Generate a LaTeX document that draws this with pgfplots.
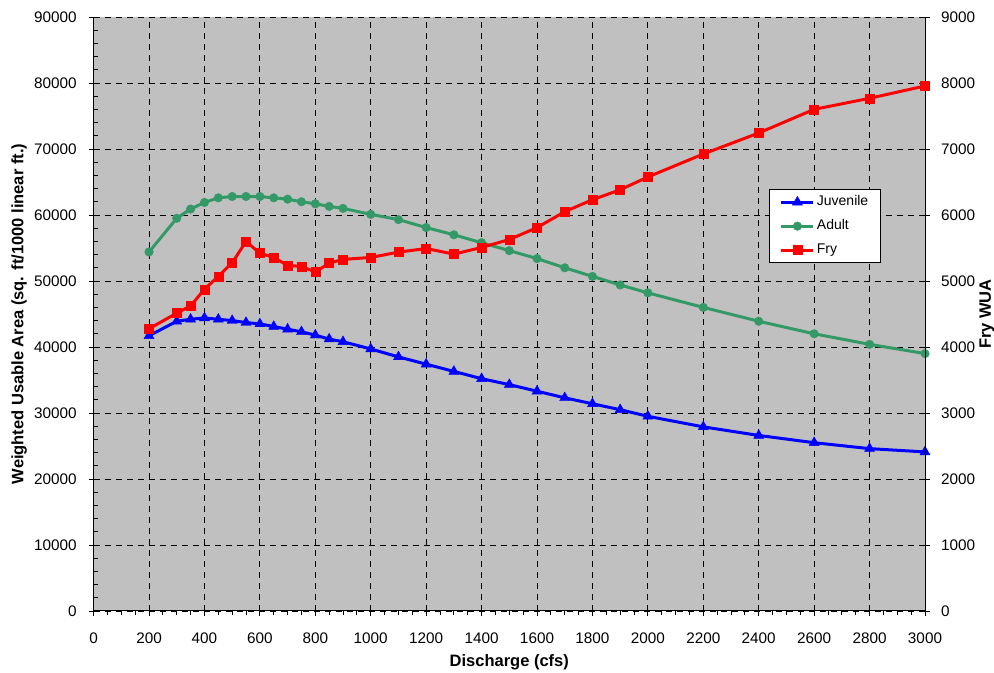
\documentclass[border=0pt]{standalone}
\usepackage{pgfplots}
\pgfplotsset{compat=1.18}
\usepackage{fontspec}
\setmainfont{Liberation Sans}
\definecolor{bgsilver}{RGB}{192,192,192}
\definecolor{adultgreen}{RGB}{51,153,102}
\begin{document}
\begin{tikzpicture}
\pgfplotsset{
  common/.style={
    width=831.4pt, height=594pt, scale only axis,
    xmin=0, xmax=3000, clip=false,
    /pgf/number format/assume math mode=true,
    /pgf/number format/1000 sep={},
    scaled x ticks=false, scaled y ticks=false,
    ticklabel style={font=\fontsize{15.3}{17}\selectfont},
    axis line style={-, line width=1pt, black},
    tick style={black, line width=0.8pt},
    tick align=center, major tick length=10pt, minor tick length=4pt,
    label style={font=\bfseries\fontsize{16.5}{19}\selectfont},
  }
}
\begin{axis}[common,
  ymin=0, ymax=90000,
  axis x line*=bottom, axis y line*=left,
  xtick={0,200,...,3000}, minor x tick num=3,
  ytick={0,10000,...,90000}, minor y tick num=4,
  minor x tick style={yshift=-2pt}, minor y tick style={xshift=2pt},
  xticklabel style={yshift=-13pt},
  yticklabel style={xshift=-8.5pt},
  grid=major,
  major grid style={black, line width=0.8pt, dash pattern=on 6pt off 5pt},
  axis background/.style={fill=bgsilver},
  xlabel={Discharge (cfs)},
  xlabel style={at={(axis description cs:0.5,-0.086)}, anchor=center},
  ylabel={Weighted Usable Area (sq. ft/1000 linear ft.)},
  ylabel style={at={(axis description cs:-0.0895,0.5)}, anchor=center, rotate=0},
  legend cell align=left,
  legend image code/.code={\draw[mark repeat=2,mark phase=2] plot coordinates {(0pt,0pt) (16pt,0pt) (32pt,0pt)};},
  legend style={at={(0.8124,0.710)}, anchor=north west, draw=black, line width=0.8pt, fill=white,
    font=\fontsize{14}{16}\selectfont, inner xsep=10.5pt, inner ysep=4pt, row sep=7pt,
    nodes={inner sep=2pt, text height=10pt, text depth=3pt}},
]
\coordinate (ll) at (rel axis cs:0,0);
\coordinate (ur) at (rel axis cs:1,1);
\addplot[blue, line width=3pt, mark=triangle*, mark size=5.8pt, mark options={line width=0.4pt}] coordinates {
(200,41700) (300,43900) (350,44200) (400,44400) (450,44200) (500,44000) (550,43700) (600,43500)
(650,43100) (700,42700) (750,42300) (800,41800) (850,41200) (900,40800) (1000,39700) (1100,38500)
(1200,37400) (1300,36300) (1400,35200) (1500,34300) (1600,33300) (1700,32300) (1800,31400)
(1900,30500) (2000,29500) (2200,27900) (2400,26600) (2600,25500) (2800,24600) (3000,24100)};
\addlegendentry{Juvenile}
\addplot[adultgreen, line width=3pt, mark=*, mark size=4.3pt, mark options={line width=0.4pt}] coordinates {
(200,54400) (300,59500) (350,60900) (400,61900) (450,62600) (500,62800) (550,62800) (600,62800)
(650,62600) (700,62400) (750,62000) (800,61700) (850,61300) (900,61000) (1000,60100) (1100,59300)
(1200,58100) (1300,57000) (1400,55800) (1500,54600) (1600,53400) (1700,52000) (1800,50700)
(1900,49400) (2000,48200) (2200,46000) (2400,43900) (2600,42000) (2800,40400) (3000,39000)};
\addlegendentry{Adult}
\addlegendimage{red, line width=3pt, mark=square*, mark size=4.5pt, mark options={line width=0.4pt}}
\addlegendentry{Fry}
\end{axis}
\begin{axis}[common,
  ymin=0, ymax=9000,
  axis x line=none, axis y line*=right,
  ytick={0,1000,...,9000},
  yticklabel style={xshift=7.5pt},
  ylabel={Fry WUA},
  ylabel style={at={(axis description cs:1.0746,0.5)}, anchor=center, rotate=0},
]
\addplot[red, line width=3pt, mark=square*, mark size=4.5pt, mark options={line width=0.4pt}] coordinates {
(200,4276) (300,4513) (350,4623) (400,4874) (450,5070) (500,5276) (550,5598) (600,5422)
(650,5357) (700,5236) (750,5221) (800,5136) (850,5271) (900,5327) (1000,5357) (1100,5437)
(1200,5492) (1300,5407) (1400,5508) (1500,5628) (1600,5809) (1700,6050) (1800,6231)
(1900,6382) (2000,6576) (2200,6924) (2400,7242) (2600,7601) (2800,7768) (3000,7955)};
\end{axis}
\pgfresetboundingbox
\path ([shift={(-93.6pt,-62pt)}]ll) rectangle ([shift={(69pt,17pt)}]ur);
\end{tikzpicture}
\end{document}
